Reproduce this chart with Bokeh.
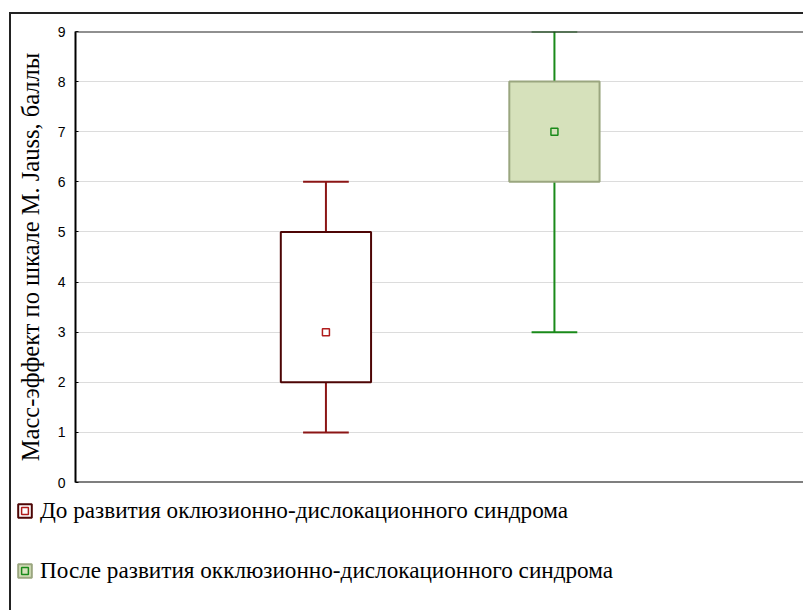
from bokeh.plotting import figure
from bokeh.layouts import column
from bokeh.models import Range1d, Span, Legend, LegendItem, ColumnDataSource, FixedTicker
from bokeh.embed import file_html
from bokeh.resources import INLINE

# ---- data ----
groups = ["До развития оклюзионно-дислокационного синдрома",
          "После развития окклюзионно-дислокационного синдрома"]
xpos = [1, 2]
medians = [3, 7]
q1 = [2, 6]
q3 = [5, 8]
mins = [1, 3]
maxs = [6, 9]
y_ticks = [0, 1, 2, 3, 4, 5, 6, 7, 8, 9]
y_label = "Масс-эффект по шкале M. Jauss, баллы"

box_fill = ["#ffffff", "#d6e1bb"]
box_line = ["#4d0505", "#9aa67f"]
whisk_col = ["#8b1515", "#1a8a1a"]
med_fill = ["#ffffff", "#d6e1bb"]
med_line = ["#b01c1c", "#1a8a1a"]

box_w = 0.395
cap_w = 0.2

W = 792
H1, H2 = 480, 116

p = figure(width=W, height=H1, output_backend="svg", toolbar_location=None,
           x_range=Range1d(-0.096, 3.09), y_range=Range1d(0, 9),
           x_axis_location=None,
           min_border_left=64, min_border_top=17, min_border_bottom=12,
           min_border_right=0)
p.frame_align = False
p.outline_line_color = None
p.xgrid.visible = False
p.ygrid.grid_line_color = "#dcdcdc"
p.ygrid.grid_line_width = 1
p.yaxis.ticker = FixedTicker(ticks=y_ticks)
p.yaxis.axis_line_width = 2
p.yaxis.axis_line_color = "#000000"
p.yaxis.major_tick_in = 3
p.yaxis.major_tick_out = 0
p.yaxis.minor_tick_line_color = None
p.yaxis.major_label_text_font = "Liberation Sans"
p.yaxis.major_label_text_font_size = "14px"
p.yaxis.major_label_text_color = "#000000"
p.yaxis.major_label_standoff = 10
p.yaxis.axis_label = y_label
p.yaxis.axis_label_text_font = "Liberation Serif"
p.yaxis.axis_label_text_font_size = "24.5px"
p.yaxis.axis_label_text_font_style = "normal"
p.yaxis.axis_label_text_color = "#000000"
p.yaxis.axis_label_standoff = 11

p.add_layout(Span(location=9, dimension="width", line_color="#222222", line_width=2))
p.add_layout(Span(location=0, dimension="width", line_color="#000000", line_width=2))

src = ColumnDataSource(dict(
    x=xpos, med=medians, q1=q1, q3=q3, lo=mins, hi=maxs,
    x0=[v - cap_w / 2 for v in xpos], x1=[v + cap_w / 2 for v in xpos],
    bf=box_fill, bl=box_line, wc=whisk_col, mf=med_fill, ml=med_line))

p.segment(x0="x", y0="q3", x1="x", y1="hi", line_color="wc", line_width=2, source=src)
p.segment(x0="x", y0="q1", x1="x", y1="lo", line_color="wc", line_width=2, source=src)
p.segment(x0="x0", y0="hi", x1="x1", y1="hi", line_color="wc", line_width=2, source=src)
p.segment(x0="x0", y0="lo", x1="x1", y1="lo", line_color="wc", line_width=2, source=src)
p.vbar(x="x", width=box_w, bottom="q1", top="q3", fill_color="bf", line_color="bl",
       line_width=2, source=src)
p.scatter(x="x", y="med", marker="square", size=7, fill_color="mf", line_color="ml",
          line_width=1.5, source=src)

# ---- legend panel ----
p2 = figure(width=W, height=H2, output_backend="svg", toolbar_location=None,
            x_range=Range1d(0, 1), y_range=Range1d(0, 1),
            x_axis_location=None, y_axis_location=None,
            min_border=0, min_border_left=0, min_border_right=0,
            min_border_top=0, min_border_bottom=0)
p2.frame_align = False
p2.outline_line_color = None
p2.grid.visible = False

items = []
for i in range(2):
    # legend-only renderers: a point placed outside the visible range
    es = ColumnDataSource(dict(x=[-10], y=[-10]))
    r_outer = p2.rect(x="x", y="y", width=1, height=1, fill_color=box_fill[i],
                      line_color=box_line[i], line_width=2, source=es)
    r_inner = p2.scatter(x="x", y="y", marker="square", size=7, fill_color=med_fill[i],
                         line_color=med_line[i], line_width=1.5, source=es)
    items.append(LegendItem(label=groups[i], renderers=[r_outer, r_inner]))

legend = Legend(items=items, location=(5, 26), orientation="vertical",
                glyph_width=17, glyph_height=17, label_height=20, spacing=33,
                label_standoff=7, padding=0, margin=0,
                border_line_color=None, background_fill_alpha=0,
                label_text_font="Liberation Serif", label_text_font_size="23.2px",
                label_text_color="#000000")
p2.add_layout(legend, "center")

layout = column(p, p2, spacing=0)
layout.styles = {"border-left": "2px solid #222222", "border-top": "2px solid #222222",
                 "margin-left": "9px", "margin-top": "12px"}

open("out.html", "w").write(file_html(layout, INLINE))
